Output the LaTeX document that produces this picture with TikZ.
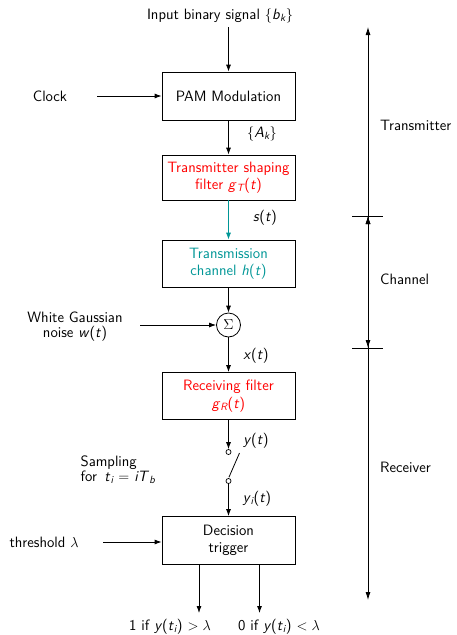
\documentclass[tikz,border=0pt]{standalone}
\usetikzlibrary{arrows.meta}
\definecolor{tealc}{RGB}{0,150,150}
\newcommand{\mi}[1]{\textit{#1}}
\newcommand{\sbi}[1]{\textsubscript{\itshape #1}}
\begin{document}
\begin{tikzpicture}[x=1pt,y=-1pt,
  every node/.style={font=\fontsize{15}{17.5}\selectfont\sffamily},
  box/.style={draw, line width=0.8pt, minimum width=133pt, align=center, inner sep=0pt},
  arr/.style={-{Latex[length=7pt,width=5pt]}, line width=0.8pt},
  dim/.style={-{Latex[length=8pt,width=5pt]}, line width=0.8pt},
  lbl/.style={inner sep=0pt},
  dot/.style={circle, draw, line width=0.7pt, minimum size=5pt, inner sep=0pt}]
\useasboundingbox (0,0) rectangle (457,635);

% blocks
\node[box, minimum height=48pt] (pam) at (228.5,96) {PAM Modulation};
\node[box, minimum height=45pt, text=red] (shape) at (228.5,177.5) {Transmitter shaping\\filter \mi{g}\sbi{T}(\mi{t})};
\node[box, minimum height=47pt, text=tealc] (chan) at (228.5,263.5) {Transmission\\channel \mi{h}(\mi{t})};
\node[circle, draw, line width=0.8pt, minimum size=24pt, inner sep=0pt] (sum) at (228.5,325) {$\Sigma$};
\node[box, minimum height=47pt, text=red] (recv) at (228.5,396) {Receiving filter\\\mi{g}\sbi{R}(\mi{t})};
\node[dot] (sw1) at (228.5,452) {};
\node[dot] (sw2) at (228.5,481) {};
\node[box, minimum height=48pt] (dec) at (228.5,540.5) {Decision\\trigger};

% texts
\node[lbl] (inp) at (220,16) {Input binary signal $\{$\mi{b}\sbi{k}$\}$};
\node[lbl] (clk) at (50,96) {Clock};
\node[lbl, align=center, font=\fontsize{15}{15}\selectfont\sffamily] (noise) at (75,327) {White Gaussian\\noise \mi{w}(\mi{t})};
\node[lbl, align=left, font=\fontsize{15}{13}\selectfont\sffamily] (samp) at (118,470) {Sampling\\for \,\mi{t}\sbi{i} $=$ \mi{iT}\sbi{b}};
\node[lbl] (thr) at (44,542) {threshold $\lambda$};
\node[lbl] (o1) at (170,627) {1 if \mi{y}(\mi{t}\sbi{i}) $>\lambda$};
\node[lbl] (o2) at (279,627) {0 if \mi{y}(\mi{t}\sbi{i}) $<\lambda$};

\node[lbl] (ak) at (262,134) {$\{$\mi{A}\sbi{k}$\}$};
\node[lbl] (st) at (265,218) {\mi{s}(\mi{t})};
\node[lbl] (xt) at (256,356) {\mi{x}(\mi{t})};
\node[lbl] (yt) at (256,441) {\mi{y}(\mi{t})};
\node[lbl] (yit) at (257,499) {\mi{y}\sbi{i}(\mi{t})};

% coordinates
\coordinate (intop) at (228.5,27);
\coordinate (clks) at (97,96);
\coordinate (noises) at (140,325);
\coordinate (thrs) at (103,542);
\coordinate (swe) at (239.5,453);
\coordinate (d1s) at (199,564.5);
\coordinate (d1e) at (199,613);
\coordinate (d2s) at (259.5,564.5);
\coordinate (d2e) at (259.5,613);

% connectors
\draw[arr] (intop) -- (pam.north);
\draw[arr] (clks) -- (pam.west |- clks);
\draw[arr] (pam) -- (shape);
\draw[arr, tealc] (shape) -- (chan);
\draw[arr] (chan) -- (sum);
\draw[arr] (noises) -- (sum.west);
\draw[arr] (sum) -- (recv);
\draw[arr] (recv) -- (sw1);
\draw[line width=0.8pt] (sw2.north) ++(0.5,-1) coordinate (swb) -- (swe);
\draw[arr] (sw2) -- (dec);
\draw[arr] (thrs) -- (dec.west |- thrs);
\draw[arr] (d1s) -- (d1e);
\draw[arr] (d2s) -- (d2e);

% right dimension line
\coordinate (rtop) at (368,27);
\coordinate (rt1) at (368,216);
\coordinate (rt2) at (368,348);
\coordinate (rbot) at (368,600);
\draw[dim] (rt1) -- (rtop);
\draw[dim] (rt2) -- (rt1);
\draw[dim] (rt1) -- (rt2);
\draw[dim] (rt2) -- (rbot);
\draw[dim] (368,280) -- (rt1);
\draw[line width=0.7pt] (352,216) -- (383,216);
\draw[line width=0.7pt] (352,348) -- (383,348);
\node[lbl, anchor=west] (tx) at (380,125) {Transmitter};
\node[lbl, anchor=west] (ch) at (380,279) {Channel};
\node[lbl, anchor=west] (rx) at (380,467) {Receiver};
\end{tikzpicture}
\end{document}
